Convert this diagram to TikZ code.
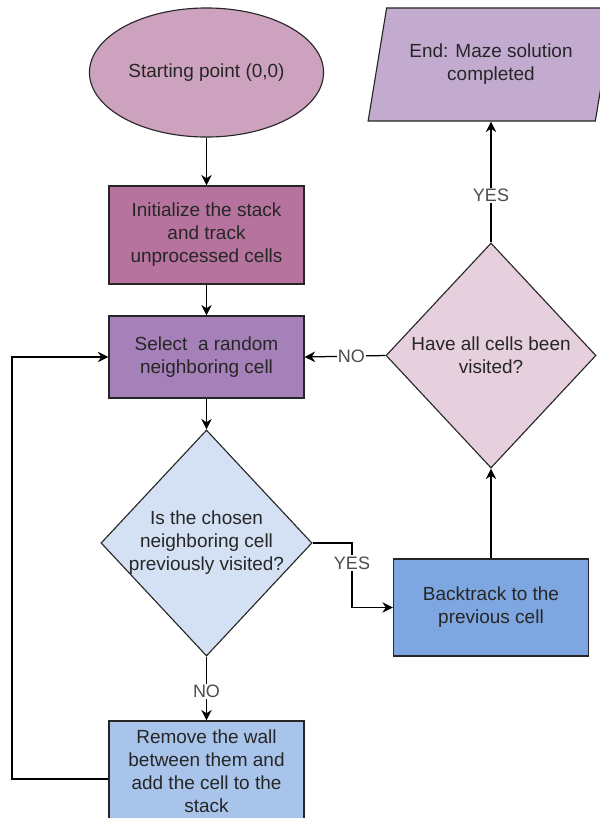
\documentclass[tikz,border=0pt]{standalone}
\usepackage{fontspec}
\setmainfont{Liberation Sans}
\usepackage{xcolor}
\usetikzlibrary{shapes.geometric, arrows.meta, positioning}
\definecolor{startFill}{HTML}{CDA2BE}
\definecolor{initFill}{HTML}{B5739D}
\definecolor{selectFill}{HTML}{A680B8}
\definecolor{checkFill}{HTML}{D4E1F5}
\definecolor{removeFill}{HTML}{A9C4EB}
\definecolor{visitedFill}{HTML}{E6D0DE}
\definecolor{backFill}{HTML}{7EA6E0}
\definecolor{stopFill}{HTML}{C3ABD0}

\begin{document}
\begin{tikzpicture}[x=0.025cm, y=-0.025cm,
    every node/.style={font=\fontsize{13.5}{16.3}\selectfont, text=black!85},
    process/.style={rectangle, draw=black!85, line width=0.8pt, minimum width=4.875cm, align=center, inner sep=2pt},
    decision/.style={diamond, draw=black!85, line width=0.8pt, align=center, inner sep=-6pt},
    flow/.style={-{Stealth[length=7.5pt, width=7.5pt]}, line width=0.9pt},
    edgelbl/.style={fill=white, font=\fontsize{12.8}{14}\selectfont, text=black!70, inner sep=1pt}]
    \path[use as bounding box, clip] (0,0) rectangle (600,818);
    \node[ellipse, draw=black!85, line width=0.8pt, fill=startFill, minimum width=4.925cm, minimum height=3.225cm] (start) at (206.5,72.5) {Starting point (0,0)};
    \node[process, fill=initFill, minimum height=2.45cm] (init) at (206.5,235) {Initialize the stack\\and track\\unprocessed cells};
    \node[process, fill=selectFill, minimum height=2.05cm] (select) at (206.5,357) {Select\ \ a random\\neighboring cell};
    \node[decision, fill=checkFill, minimum width=5.275cm, minimum height=5.65cm] (check) at (206.5,543) {Is the chosen\\neighboring cell\\previously visited?};
    \node[process, fill=removeFill, minimum height=2.5cm] (remove) at (206.5,771) {Remove the wall\\between them and\\add the cell to the\\stack};
    \node[decision, fill=visitedFill, minimum width=5.25cm, minimum height=5.625cm] (visited) at (491,355.5) {Have all cells been\\visited?};
    \node[process, fill=backFill, minimum height=2.425cm] (back) at (491,607.5) {Backtrack to the\\previous cell};
    \node[trapezium, trapezium left angle=73, trapezium right angle=107, trapezium stretches, draw=black!85, line width=0.8pt, fill=stopFill, minimum width=6.15cm, minimum height=2.825cm, align=center] (stop) at (491,64.5) {End: Maze solution\\completed};
    \coordinate (loopleft) at (12,779);
    \coordinate (yesbend) at (352,0);
    \draw[flow] (start) -- (init);
    \draw[flow] (init) -- (select);
    \draw[flow] (select) -- (check);
    \draw[flow] (check) -- node[edgelbl, pos=0.55] {NO} (remove);
    \draw[flow] (remove.west |- loopleft) -- (loopleft) -- (select.west -| loopleft) -- (select.west);
    \draw[flow] (check.east) -- (check.east -| yesbend) -- node[edgelbl, pos=0.31] {YES} (back.west -| yesbend) -- (back.west);
    \draw[flow] (visited.west) -- node[edgelbl, pos=0.42] {NO} (select.east);
    \draw[flow] (back) -- (visited);
    \draw[flow] (visited.north) -- node[edgelbl, pos=0.39] {YES} (visited.north |- stop.south);
\end{tikzpicture}
\end{document}
